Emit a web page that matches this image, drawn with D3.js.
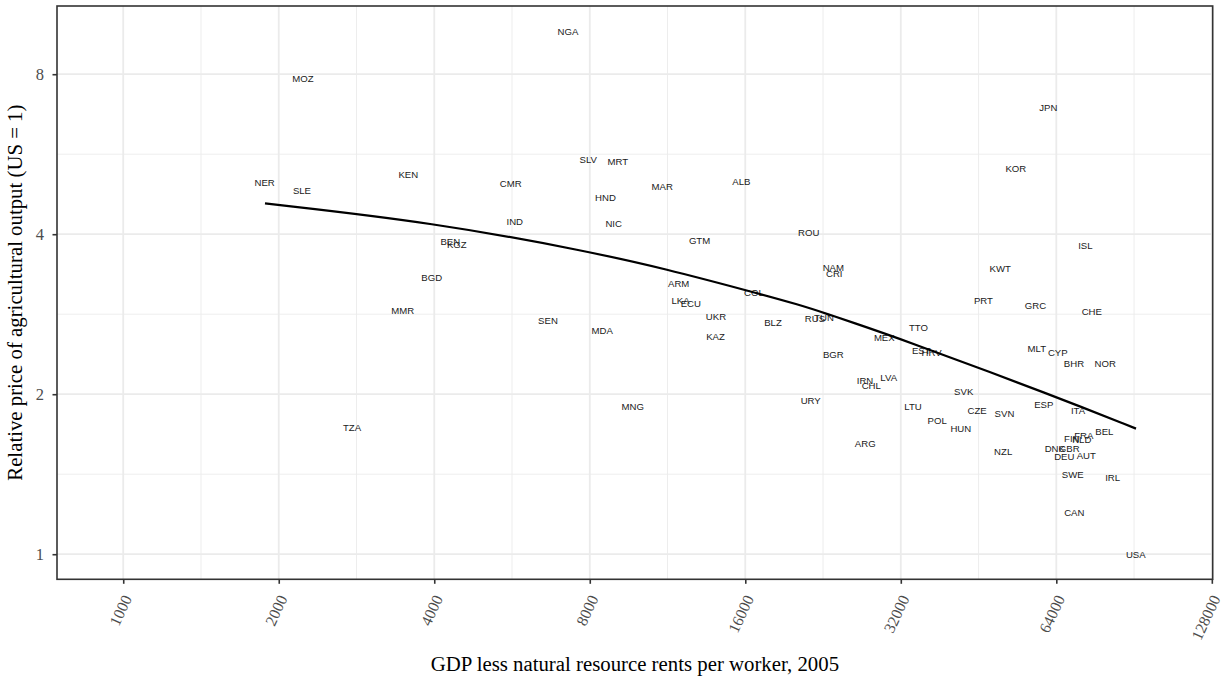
<!DOCTYPE html>
<html>
<head>
<meta charset="utf-8">
<script src="https://cdn.jsdelivr.net/npm/d3@7"></script>
<style>
	body { margin: 0; background: #fff; }
	.tick text { font-family: "Liberation Serif", serif; }
	.country { font-family: "Liberation Sans", Arial, sans-serif; font-size: 9.6px; fill: #1a1a1a; }
	.axisTitle { font-family: "Liberation Serif", serif; font-size: 20.8px; fill: #000; }
</style>
</head>
<body>
<svg id="chart" width="1225" height="677"></svg>
<script>
// country codes, GDP less resource rents per worker (2005), relative ag price (US = 1)
const codes = ["MOZ","NER","SLE","KEN","BGD","MMR","TZA","NGA","CMR","SLV","MRT","HND","MAR","ALB","IND","NIC",
	"BEN","KGZ","GTM","ROU","NAM","CRI","ARM","LKA","ECU","COL","UKR","BLZ","RUS","TUN","SEN","MDA","KAZ","BGR",
	"URY","MNG","JPN","KOR","ISL","KWT","PRT","GRC","CHE","TTO","MEX","EST","HRV","MLT","CYP","BHR","NOR","IRN",
	"CHL","LVA","SVK","ESP","ITA","LTU","CZE","SVN","POL","HUN","ARG","BEL","FRA","FIN","NLD","NZL","DNK","GBR",
	"DEU","AUT","SWE","IRL","CAN","USA"]
const gdp = [2228,1878,2218,3563,3955,3476,2772,7260,5626,7946,9063,8580,11050,15720,5727,8900,
	4296,4422,13050,21230,23690,23790,11890,11990,12550,16630,14040,18100,21830,22720,6640,8457,14010,23690,
	21420,9687,61760,53430,72850,49840,46260,58330,74960,34630,29730,35050,36720,58670,64430,69250,79600,27280,
	28050,30320,42360,60530,70500,33790,44980,50800,37640,41810,27310,79270,72350,68570,71700,50500,63560,67790,
	66320,73160,68880,82280,69350,91200]
const relPrice = [7.84,5.00,4.83,5.18,3.315,2.873,1.730,9.62,4.98,5.53,5.48,4.69,4.92,5.02,4.22,4.19,
	3.88,3.82,3.89,4.03,3.467,3.373,3.229,3.00,2.961,3.106,2.804,2.728,2.78,2.792,2.751,2.635,2.571,2.378,
	1.945,1.895,6.92,5.315,3.807,3.452,3.005,2.94,2.861,2.669,2.556,2.416,2.395,2.437,2.395,2.284,2.284,2.121,
	2.076,2.149,2.026,1.912,1.863,1.895,1.863,1.839,1.784,1.723,1.615,1.701,1.675,1.653,1.641,1.56,1.58,1.58,
	1.529,1.533,1.412,1.394,1.197,1.00]

// fitted curve
const fitX = [1881,3995,8006,11270,15980,20420,23340,25520,32030,63910,91300]
const fitY = [4.57,4.206,3.709,3.437,3.142,2.945,2.82,2.739,2.541,1.979,1.723]

const xBreaks = [1000,2000,4000,8000,16000,32000,64000,128000]
const yBreaks = [1,2,4,8]

const W = 1225, H = 677
const margin = {top: 6, right: 12.3, bottom: 97.7, left: 57}

const svg = d3.select("#chart")

const x = d3.scaleLog().base(2).domain([744.4, 128500]).range([margin.left, W - margin.right])
const y = d3.scaleLog().base(2).domain([0.897, 10.75]).range([H - margin.bottom, margin.top])

//minor breaks sit halfway between the majors on the log scale
const xMinor = xBreaks.map(d => d * Math.SQRT2).filter(d => d > x.domain()[0] && d < x.domain()[1])
const yMinor = yBreaks.map(d => d * Math.SQRT2).filter(d => d > y.domain()[0] && d < y.domain()[1])

const grid = svg.append("g")
const [x0, x1] = x.range(), [y0, y1] = y.range()

grid.selectAll("line.xMinor").data(xMinor).join("line")
	.attr("x1", d => x(d)).attr("x2", d => x(d)).attr("y1", y0).attr("y2", y1)
	.attr("stroke", "#ebebeb").attr("stroke-width", 0.9)
grid.selectAll("line.yMinor").data(yMinor).join("line")
	.attr("y1", d => y(d)).attr("y2", d => y(d)).attr("x1", x0).attr("x2", x1)
	.attr("stroke", "#ebebeb").attr("stroke-width", 0.9)
grid.selectAll("line.xMajor").data(xBreaks).join("line")
	.attr("x1", d => x(d)).attr("x2", d => x(d)).attr("y1", y0).attr("y2", y1)
	.attr("stroke", "#ebebeb").attr("stroke-width", 1.8)
grid.selectAll("line.yMajor").data(yBreaks).join("line")
	.attr("y1", d => y(d)).attr("y2", d => y(d)).attr("x1", x0).attr("x2", x1)
	.attr("stroke", "#ebebeb").attr("stroke-width", 1.8)

// country labels
svg.append("g").selectAll("text").data(codes).join("text")
	.classed("country", true)
	.attr("x", (d, i) => x(gdp[i]))
	.attr("y", (d, i) => y(relPrice[i]))
	.attr("text-anchor", "middle")
	.attr("dominant-baseline", "central")
	.text(d => d)

// fit line (basis smooths out the reading noise)
const line = d3.line()
	.x(d => x(d[0])).y(d => y(d[1]))
	.curve(d3.curveBasis)
svg.append("path")
	.datum(fitX.map((d, i) => [d, fitY[i]]))
	.attr("d", line)
	.attr("fill", "none").attr("stroke", "#000").attr("stroke-width", 2.2)

// panel border
svg.append("rect")
	.attr("x", x0).attr("y", y1).attr("width", x1 - x0).attr("height", y0 - y1)
	.attr("fill", "none").attr("stroke", "#333").attr("stroke-width", 1.6)

// axes
const xAxis = svg.append("g")
	.attr("transform", `translate(0,${y0})`)
	.call(d3.axisBottom(x).tickValues(xBreaks).tickFormat(d3.format("d")).tickSize(4.5).tickPadding(0))
xAxis.select(".domain").remove()
xAxis.selectAll(".tick line").attr("stroke", "#333").attr("stroke-width", 1.6)
xAxis.selectAll(".tick text")
	.attr("font-size", 15.8).attr("fill", "#4d4d4d")
	.attr("text-anchor", "end")
	.attr("y", 0).attr("dy", 0)
	.attr("transform", "translate(8.5,19) rotate(-65)")

const yAxis = svg.append("g")
	.attr("transform", `translate(${x0},0)`)
	.call(d3.axisLeft(y).tickValues(yBreaks).tickFormat(d3.format("d")).tickSize(4.5).tickPadding(8.5))
yAxis.select(".domain").remove()
yAxis.selectAll(".tick line").attr("stroke", "#333").attr("stroke-width", 1.6)
yAxis.selectAll(".tick text").attr("font-size", 16.5).attr("fill", "#4d4d4d")

// titles
svg.append("text").classed("axisTitle", true)
	.attr("x", (x0 + x1) / 2).attr("y", 671)
	.attr("text-anchor", "middle")
	.text("GDP less natural resource rents per worker, 2005")

svg.append("text").classed("axisTitle", true)
	.attr("transform", `translate(21.5,${(y0 + y1) / 2}) rotate(-90)`)
	.attr("text-anchor", "middle")
	.text("Relative price of agricultural output (US = 1)")
</script>
</body>
</html>
